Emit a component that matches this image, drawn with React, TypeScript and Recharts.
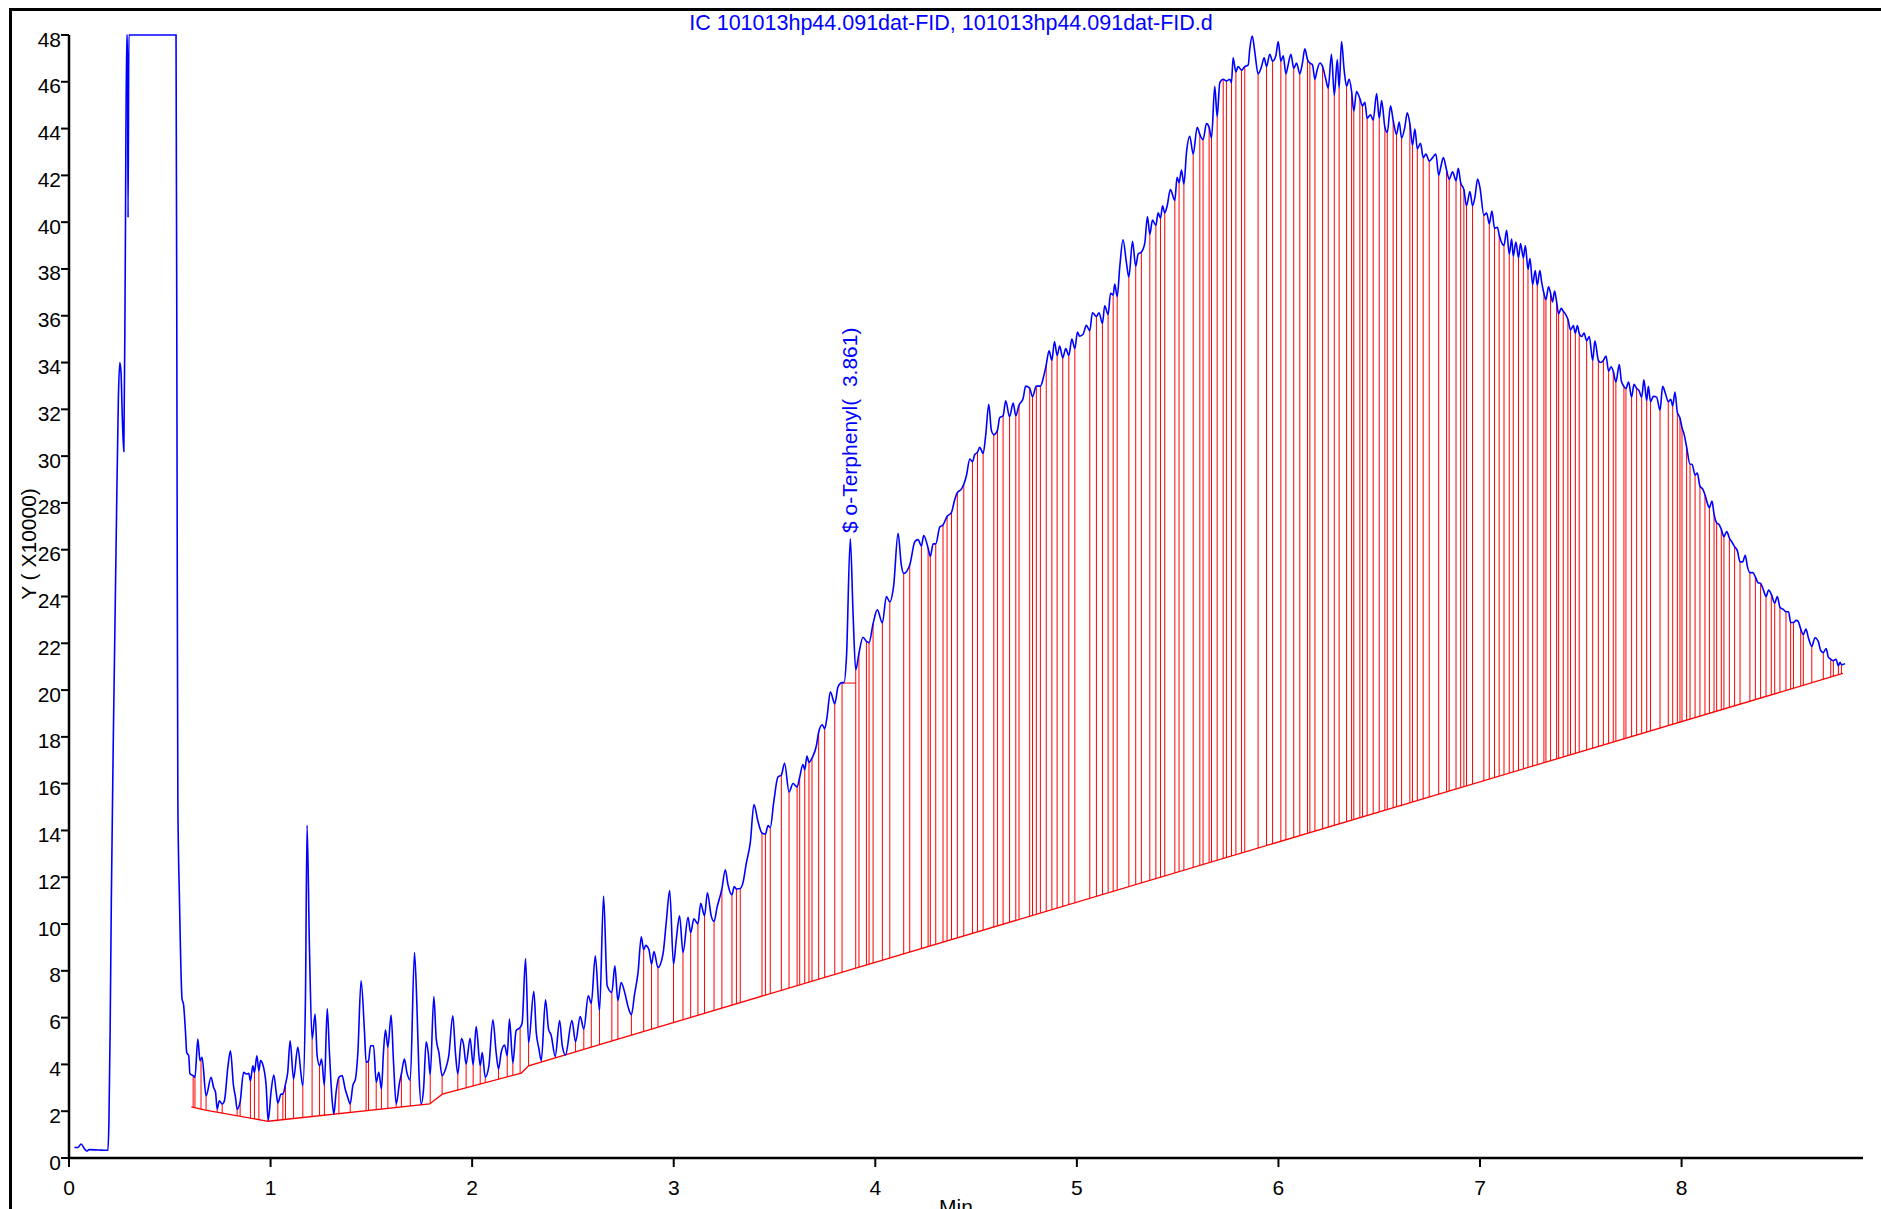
import { Area, ComposedChart, Line, XAxis, YAxis } from 'recharts';

// [minutes, response x10000, 1 = integration drop line at this valley]
type Pt = [number, number, number?];

const xTicks = [0, 1, 2, 3, 4, 5, 6, 7, 8];
const yTicks = [0, 2, 4, 6, 8, 10, 12, 14, 16, 18, 20, 22, 24, 26, 28, 30, 32, 34, 36, 38, 40, 42, 44, 46, 48];

const TITLE = 'IC 101013hp44.091dat-FID, 101013hp44.091dat-FID.d';
const PEAK_LABEL = '$ o-Terphenyl(  3.861)';

const injection: Pt[] = [
  [0.027, 0.45], [0.045, 0.45], [0.06, 0.6], [0.075, 0.42], [0.088, 0.3], [0.1, 0.36], [0.15, 0.34],
  [0.193, 0.33], [0.198, 1.5], [0.204, 5.4], [0.21, 11.0], [0.22, 18.0], [0.235, 27.0], [0.245, 32.5],
  [0.252, 34.0], [0.258, 33.6], [0.265, 31.5], [0.272, 30.2], [0.279, 38.0], [0.286, 48], [0.29, 48],
  [0.293, 40.2], [0.297, 48], [0.531, 48], [0.536, 30], [0.54, 15.3],
];

const signalEarly: Pt[] = [
  [0.548, 11.06], [0.561, 6.79], [0.568, 6.58], [0.578, 5.37], [0.584, 4.51], [0.594, 4.37], [0.6, 3.6],
  [0.616, 3.52, 1], [0.625, 3.45, 1], [0.639, 5.08], [0.65, 4.16], [0.655, 4.23, 1], [0.66, 4.3], [0.68, 2.66, 1],
  [0.705, 3.45], [0.717, 3.02], [0.727, 2.81], [0.735, 2.09, 1], [0.746, 2.45], [0.76, 2.31, 1], [0.771, 2.45],
  [0.788, 3.87], [0.801, 4.58], [0.816, 3.09], [0.826, 2.59], [0.834, 2.09, 1], [0.849, 2.4, 1], [0.866, 3.66],
  [0.879, 3.59], [0.892, 3.62], [0.9, 3.3, 1], [0.912, 3.94], [0.92, 3.66, 1], [0.932, 4.37], [0.942, 3.73, 1],
  [0.95, 4.16], [0.961, 4.01], [0.978, 3.09], [0.988, 1.6, 1], [1.003, 2.88], [1.016, 3.55], [1.028, 2.81],
  [1.036, 2.35, 1], [1.052, 2.73], [1.061, 2.73, 1], [1.074, 3.16, 1], [1.085, 3.66], [1.097, 5.01],
  [1.114, 3.37, 1], [1.135, 4.73], [1.152, 3.52], [1.16, 3.09, 1], [1.173, 6.79], [1.181, 14.22], [1.193, 8.93],
  [1.206, 5.08, 1], [1.221, 6.15], [1.231, 4.37], [1.243, 3.94, 1], [1.253, 4.23], [1.267, 3.09, 1],
  [1.281, 6.39], [1.292, 4.51], [1.305, 2.52], [1.314, 1.88, 1], [1.325, 2.81], [1.339, 3.45, 1], [1.355, 3.52],
  [1.37, 2.95], [1.383, 2.59], [1.395, 2.31, 1], [1.408, 3.09], [1.421, 3.37], [1.433, 4.51], [1.449, 7.57],
  [1.466, 5.37], [1.474, 4.09, 1], [1.486, 4.16, 1], [1.496, 4.8], [1.511, 4.8], [1.524, 3.23, 1], [1.537, 3.66],
  [1.55, 2.95, 1], [1.56, 4.51], [1.57, 5.47], [1.582, 4.73, 1], [1.598, 6.11], [1.61, 4.09], [1.623, 2.31, 1],
  [1.64, 3.23], [1.649, 3.59, 1], [1.664, 4.23], [1.676, 3.66], [1.693, 3.33, 1], [1.714, 8.78], [1.726, 6.51],
  [1.736, 3.66], [1.747, 2.31, 1], [1.759, 2.95], [1.772, 4.97], [1.782, 4.51], [1.792, 3.55, 1], [1.81, 6.9],
  [1.822, 5.08], [1.835, 4.51], [1.851, 3.52, 1], [1.868, 3.8], [1.884, 4.37], [1.904, 6.08], [1.917, 4.51],
  [1.929, 3.59, 1], [1.947, 5.11], [1.957, 4.87], [1.97, 4.01, 1], [1.99, 5.12], [2.005, 3.97, 1], [2.02, 5.62],
  [2.04, 3.94, 1], [2.05, 4.51], [2.065, 3.45, 1], [2.083, 3.94], [2.103, 5.91], [2.119, 4.51], [2.131, 3.8, 1],
  [2.144, 4.51], [2.161, 4.83], [2.174, 4.37, 1], [2.185, 5.94], [2.202, 4.06, 1], [2.218, 5.44],
  [2.238, 5.58, 1], [2.248, 5.77], [2.265, 8.53], [2.28, 4.91, 1], [2.306, 7.12], [2.318, 5.37], [2.331, 4.68],
  [2.343, 4.16, 1], [2.364, 6.76], [2.379, 5.51], [2.392, 5.25], [2.412, 4.34, 1], [2.434, 5.87], [2.447, 4.8],
  [2.463, 4.4, 1], [2.495, 5.87], [2.513, 4.97, 1], [2.536, 6.05], [2.554, 5.51, 1], [2.576, 6.93],
  [2.591, 6.61, 1], [2.611, 8.64], [2.632, 6.29, 1], [2.652, 11.2], [2.67, 7.36], [2.693, 7.07, 1], [2.708, 8.21],
  [2.723, 6.72, 1], [2.739, 7.5], [2.759, 7.0], [2.773, 6.48],
];

const signalMid: Pt[] = [
  [2.79, 6.12, 1], [2.806, 7.02], [2.823, 7.92], [2.839, 9.45], [2.851, 8.91, 1], [2.861, 9.09], [2.877, 8.91],
  [2.89, 8.28, 1], [2.902, 8.82], [2.922, 8.14, 1], [2.947, 8.73], [2.963, 10.08], [2.98, 11.43], [2.999, 8.28, 1],
  [3.013, 9.36], [3.029, 10.35], [3.046, 8.78, 1], [3.071, 10.29], [3.084, 9.63, 1], [3.1, 10.22],
  [3.12, 10.0, 1], [3.134, 10.89], [3.153, 10.35, 1], [3.167, 11.34], [3.186, 10.35], [3.2, 10.11, 1],
  [3.215, 10.71], [3.239, 11.5, 1], [3.256, 12.32], [3.269, 11.69], [3.289, 11.25, 1], [3.3, 11.6],
  [3.311, 11.5, 1], [3.33, 11.52, 1], [3.344, 11.78], [3.36, 12.59], [3.38, 13.49], [3.398, 15.11],
  [3.418, 14.39], [3.438, 13.89, 1], [3.455, 13.85, 1], [3.468, 14.21], [3.479, 14.12, 1], [3.496, 15.2],
  [3.517, 16.28], [3.534, 16.37, 1], [3.55, 16.87], [3.572, 15.65, 1], [3.592, 16.01], [3.612, 15.86, 1],
  [3.625, 16.28, 1], [3.641, 16.82], [3.65, 16.6, 1], [3.661, 17.18], [3.671, 16.91, 1], [3.686, 17.09, 1],
  [3.708, 17.63], [3.719, 18.2, 1], [3.737, 18.52], [3.749, 18.34, 1], [3.761, 18.88], [3.777, 19.93],
  [3.799, 19.42, 1], [3.815, 20.14], [3.835, 20.32, 1], [3.845, 20.32], [3.857, 21.4], [3.876, 26.47],
  [3.89, 23.2], [3.903, 20.86, 1], [3.919, 21.58, 1], [3.939, 22.26], [3.956, 22.08, 1], [3.969, 22.03, 1],
  [3.989, 22.84, 1], [4.01, 23.43], [4.035, 22.87, 1], [4.055, 24.0], [4.072, 23.77, 1], [4.091, 24.45],
  [4.113, 26.7], [4.129, 25.35], [4.141, 24.99, 1], [4.171, 25.35, 1], [4.196, 26.34], [4.212, 26.43],
  [4.229, 26.16, 1], [4.24, 26.61], [4.262, 26.07, 1], [4.273, 25.71, 1], [4.287, 26.25], [4.3, 26.25, 1],
  [4.32, 26.97], [4.336, 27.06, 1], [4.356, 27.42, 1], [4.378, 27.6, 1], [4.394, 28.14], [4.407, 28.44, 1],
  [4.427, 28.59], [4.439, 28.8, 1], [4.452, 29.16], [4.469, 29.88], [4.482, 29.76, 1], [4.493, 30.06],
  [4.507, 30.17, 1], [4.518, 30.38], [4.535, 30.11, 1], [4.548, 30.92], [4.563, 32.22], [4.576, 31.1],
  [4.588, 30.92, 1], [4.606, 31.1, 1], [4.617, 31.64], [4.634, 31.73, 1], [4.647, 32.36], [4.666, 31.68, 1],
  [4.684, 32.27], [4.697, 31.73, 1], [4.713, 32.18, 1], [4.733, 32.45], [4.746, 32.99], [4.766, 32.9, 1],
  [4.78, 32.54, 1], [4.799, 32.99, 1], [4.819, 32.99, 1], [4.835, 33.4], [4.848, 33.9, 1], [4.862, 34.5],
  [4.876, 34.1, 1], [4.889, 34.9], [4.902, 34.3, 1], [4.915, 34.7], [4.93, 34.2, 1], [4.945, 34.6],
  [4.96, 34.3, 1], [4.975, 35.0], [4.99, 34.6, 1], [5.003, 35.3],
];

const signalLate: Pt[] = [
  [5.014, 35.13], [5.031, 35.21], [5.047, 35.59], [5.064, 35.36, 1], [5.077, 36.13], [5.097, 35.97, 1],
  [5.11, 36.13], [5.127, 35.67, 1], [5.138, 36.43], [5.155, 36.05, 1], [5.167, 36.96], [5.18, 36.89, 1],
  [5.188, 37.35], [5.2, 36.81, 1], [5.213, 38.11], [5.229, 39.25], [5.246, 38.26], [5.258, 37.65, 1],
  [5.276, 39.18], [5.292, 38.11, 1], [5.304, 38.64], [5.32, 38.72, 1], [5.337, 39.1], [5.35, 40.24],
  [5.362, 39.48, 1], [5.375, 40.09], [5.392, 39.86, 1], [5.403, 40.4], [5.415, 40.17, 1], [5.425, 40.7],
  [5.436, 40.4, 1], [5.448, 40.7], [5.464, 41.39], [5.486, 40.93, 1], [5.497, 41.92], [5.507, 41.69, 1],
  [5.519, 42.23], [5.531, 41.62, 1], [5.544, 42.99], [5.56, 43.67], [5.577, 42.91, 1], [5.597, 44.06],
  [5.61, 43.75, 1], [5.626, 43.52, 1], [5.643, 44.21], [5.656, 44.06, 1], [5.668, 43.6, 1], [5.684, 45.81],
  [5.696, 44.51, 1], [5.709, 45.96], [5.726, 46.11, 1], [5.742, 46.04, 1], [5.759, 46.11], [5.767, 45.96, 1],
  [5.775, 47.03], [5.789, 46.42, 1], [5.8, 46.65], [5.817, 46.5, 1], [5.833, 46.65, 1], [5.85, 46.72],
  [5.858, 47.41], [5.87, 47.95], [5.883, 47.26], [5.899, 46.34, 1], [5.916, 46.65], [5.929, 47.03],
  [5.941, 46.65, 1], [5.957, 47.18], [5.971, 46.88, 1], [5.987, 47.11], [5.999, 47.72], [6.012, 46.88, 1],
  [6.024, 47.11], [6.037, 46.34, 1], [6.048, 46.72], [6.062, 47.18], [6.076, 46.57, 1], [6.09, 46.8],
  [6.106, 46.34, 1], [6.119, 46.8], [6.131, 47.41], [6.144, 46.95, 1], [6.156, 46.8, 1], [6.169, 46.72],
  [6.181, 46.11, 1], [6.192, 46.5], [6.206, 46.8], [6.219, 46.65, 1], [6.235, 46.11], [6.247, 45.73, 1],
  [6.263, 47.18], [6.277, 45.43, 1], [6.292, 46.95], [6.301, 45.73, 1], [6.313, 47.72], [6.326, 46.5],
  [6.338, 45.81, 1], [6.351, 46.11], [6.363, 45.58, 1], [6.374, 44.74, 1], [6.387, 45.58], [6.404, 45.28, 1],
  [6.417, 44.97, 1], [6.429, 45.12], [6.44, 44.44, 1], [6.457, 44.59], [6.47, 44.36, 1], [6.487, 45.5],
  [6.5, 44.44, 1], [6.512, 45.2], [6.528, 44.06, 1], [6.54, 43.83, 1], [6.556, 44.97], [6.569, 44.36, 1],
  [6.586, 43.75, 1], [6.599, 44.28], [6.611, 43.6, 1], [6.627, 44.06], [6.639, 44.67], [6.652, 44.21, 1],
  [6.665, 43.29, 1], [6.677, 43.98], [6.689, 43.14, 1], [6.705, 43.37], [6.718, 42.76, 1], [6.732, 42.91],
  [6.748, 42.61, 1], [6.765, 42.76], [6.781, 42.91], [6.795, 42.0, 1], [6.806, 42.38], [6.818, 42.76],
  [6.834, 42.23, 1], [6.847, 41.84, 1], [6.864, 42.15], [6.881, 41.77, 1], [6.892, 42.3], [6.904, 41.69, 1],
  [6.92, 41.39, 1], [6.933, 40.7, 1], [6.95, 41.31], [6.963, 40.7, 1], [6.975, 41.08], [6.988, 41.84],
  [7.0, 41.46],
];

const signalTail: Pt[] = [
  [7.019, 40.3, 1], [7.033, 40.39], [7.046, 39.93, 1], [7.059, 40.48], [7.072, 39.74, 1], [7.086, 39.78],
  [7.095, 39.46, 1], [7.109, 39.09], [7.119, 39.0, 1], [7.132, 39.65], [7.145, 38.63, 1], [7.157, 39.28],
  [7.165, 38.54, 1], [7.178, 39.15], [7.191, 38.48, 1], [7.201, 39.09], [7.215, 38.48, 1], [7.225, 39.0],
  [7.238, 37.98, 1], [7.248, 38.45], [7.261, 37.33, 1], [7.274, 37.93], [7.284, 37.3, 1], [7.297, 37.93],
  [7.306, 37.43], [7.317, 36.96, 1], [7.327, 36.69, 1], [7.34, 37.24], [7.35, 36.96, 1], [7.36, 36.59],
  [7.37, 37.06], [7.38, 36.59, 1], [7.39, 36.08, 1], [7.403, 36.32], [7.413, 36.19, 1], [7.426, 36.04],
  [7.436, 35.85, 1], [7.449, 35.39, 1], [7.463, 35.58], [7.473, 35.26, 1], [7.483, 35.58], [7.492, 35.26, 1],
  [7.504, 35.11], [7.516, 35.26], [7.529, 34.93, 1], [7.542, 35.11], [7.559, 34.09, 1], [7.57, 34.93],
  [7.587, 34.09, 1], [7.598, 34.0], [7.612, 34.09, 1], [7.625, 34.28], [7.638, 33.63, 1], [7.65, 33.82],
  [7.661, 33.63, 1], [7.674, 33.17, 1], [7.691, 33.91], [7.701, 33.22], [7.714, 32.98, 1], [7.724, 32.89, 1],
  [7.737, 33.17], [7.752, 32.52, 1], [7.764, 33.07], [7.777, 32.89, 1], [7.789, 32.8], [7.802, 32.52, 1],
  [7.813, 33.26], [7.827, 32.37, 1], [7.835, 32.98], [7.846, 32.33, 1], [7.86, 32.56], [7.876, 32.52],
  [7.893, 31.96, 1], [7.906, 32.98], [7.919, 32.7], [7.934, 32.33, 1], [7.946, 32.43], [7.956, 32.15, 1],
  [7.967, 32.74], [7.979, 31.87, 1], [7.992, 31.63, 1], [8.002, 31.22, 1], [8.012, 30.95], [8.025, 30.39, 1],
  [8.042, 29.65, 1], [8.052, 29.65], [8.067, 29.19, 1], [8.078, 29.28], [8.091, 28.72, 1], [8.105, 28.59],
  [8.116, 28.35, 1], [8.128, 27.98], [8.138, 27.8, 1], [8.151, 28.08], [8.161, 27.52, 1], [8.174, 27.15, 1],
  [8.187, 27.06], [8.197, 26.87, 1], [8.21, 26.56, 1], [8.224, 26.78], [8.237, 26.5, 1], [8.25, 26.32],
  [8.263, 26.13, 1], [8.277, 25.95], [8.29, 25.48, 1], [8.303, 25.48], [8.316, 25.76], [8.326, 25.3],
  [8.339, 25.02, 1], [8.353, 25.02], [8.366, 24.84, 1], [8.379, 24.59], [8.392, 24.56, 1], [8.406, 24.28],
  [8.419, 24.0, 1], [8.432, 24.28], [8.445, 24.1, 1], [8.462, 23.72, 1], [8.475, 24.0], [8.488, 23.54, 1],
  [8.505, 23.45], [8.518, 23.35, 1], [8.531, 23.35], [8.541, 22.89, 1], [8.555, 22.89, 1], [8.568, 22.98],
  [8.579, 22.93], [8.591, 22.61, 1], [8.604, 22.37, 1], [8.617, 22.61], [8.629, 22.24], [8.646, 21.87, 1],
  [8.662, 22.24], [8.679, 22.06], [8.69, 21.69], [8.703, 21.6, 1], [8.717, 21.78], [8.728, 21.41],
  [8.74, 21.32, 1], [8.753, 21.26, 1], [8.766, 21.32], [8.778, 21.04, 1], [8.786, 21.19], [8.793, 21.08, 1],
  [8.811, 21.13],
];

// integration baseline breakpoints
const baseline: [number, number][] = [
  [0.607, 2.19], [0.677, 2.05], [0.988, 1.57], [1.789, 2.31], [1.852, 2.73], [2.244, 3.63], [2.28, 3.94], [8.8, 20.71],
];

// separate baseline under the surrogate peak
const istdBaseline: [number, number][] = [[3.835, 20.3], [3.903, 20.3]];

const DROP_FLOOR = 0.6; // hidden under the white baseline cover
const FONT = "'Liberation Sans', Arial, sans-serif";
const BLUE = '#0000ff';
const RED = '#ff0000';

const allPoints = [...injection, ...signalEarly, ...signalMid, ...signalLate, ...signalTail];
const traceData = allPoints.map(([t, v]) => ({ t, v }));
const dropData = allPoints
  .filter((p) => p[2])
  .flatMap(([t, v]) => [
    { t, d: DROP_FLOOR },
    { t, d: v },
    { t, d: null },
  ]);
const coverData = baseline.map(([t, b]) => ({ t, b }));
const istdData = istdBaseline.map(([t, b]) => ({ t, b }));

function YTick({ x, y, payload }: any) {
  return (
    <text x={x} y={y} dy={11.5} textAnchor="end" fontFamily={FONT} fontSize={21} fill="#000">
      {payload.value}
    </text>
  );
}

function XTick({ x, y, payload }: any) {
  return (
    <text x={x} y={y} dy={28} textAnchor="middle" fontFamily={FONT} fontSize={21} fill="#000">
      {payload.value}
    </text>
  );
}

export default function App() {
  return (
    <div style={{ position: 'absolute', left: 0, top: 0, width: 1881, height: 1209, background: '#fff', overflow: 'hidden' }}>
      <ComposedChart width={1881} height={1209} margin={{ top: 35, right: 18, bottom: 0, left: 0 }}>
        <XAxis
          type="number"
          dataKey="t"
          domain={[0, 8.9]}
          ticks={xTicks}
          interval={0}
          height={51}
          tickSize={9}
          tickMargin={0}
          axisLine={{ stroke: '#000', strokeWidth: 2.5 }}
          tickLine={{ stroke: '#000', strokeWidth: 2 }}
          tick={<XTick />}
        />
        <YAxis
          type="number"
          domain={[0, 48]}
          ticks={yTicks}
          interval={0}
          width={69}
          tickSize={8}
          tickMargin={0}
          axisLine={{ stroke: '#000', strokeWidth: 2.5 }}
          tickLine={{ stroke: '#000', strokeWidth: 2 }}
          tick={<YTick />}
        />
        <Line
          data={dropData}
          dataKey="d"
          type="linear"
          stroke={RED}
          strokeWidth={1}
          dot={false}
          activeDot={false}
          connectNulls={false}
          isAnimationActive={false}
          zIndex={90}
        />
        <Area
          data={coverData}
          dataKey="b"
          type="linear"
          baseValue={0.3}
          fill="#fff"
          fillOpacity={1}
          stroke={RED}
          strokeWidth={1.3}
          dot={false}
          activeDot={false}
          isAnimationActive={false}
          zIndex={100}
        />
        <Line
          data={istdData}
          dataKey="b"
          type="linear"
          stroke={RED}
          strokeWidth={1}
          dot={false}
          activeDot={false}
          isAnimationActive={false}
        />
        <Line
          data={traceData}
          dataKey="v"
          type="monotoneX"
          stroke={BLUE}
          strokeWidth={1.6}
          dot={false}
          activeDot={false}
          isAnimationActive={false}
        />
      </ComposedChart>
      <svg width={1881} height={1209} style={{ position: 'absolute', left: 0, top: 0, pointerEvents: 'none' }}>
        <path d="M10.5 1209 L10.5 9.5 L1881 9.5" fill="none" stroke="#000" strokeWidth={3} />
        <text x={951} y={30} textAnchor="middle" fontFamily={FONT} fontSize={21.5} fill={BLUE}>
          {TITLE}
        </text>
        <text
          x={36}
          y={544}
          transform="rotate(-90 36 544)"
          textAnchor="middle"
          fontFamily={FONT}
          fontSize={21}
          fill="#000"
        >
          Y ( X10000)
        </text>
        <text
          x={857}
          y={533}
          transform="rotate(-90 857 533)"
          textAnchor="start"
          fontFamily={FONT}
          fontSize={21}
          fill={BLUE}
          style={{ whiteSpace: 'pre' }}
        >
          {PEAK_LABEL}
        </text>
        <text x={956} y={1214} textAnchor="middle" fontFamily={FONT} fontSize={21} fill="#000">
          Min
        </text>
      </svg>
    </div>
  );
}
